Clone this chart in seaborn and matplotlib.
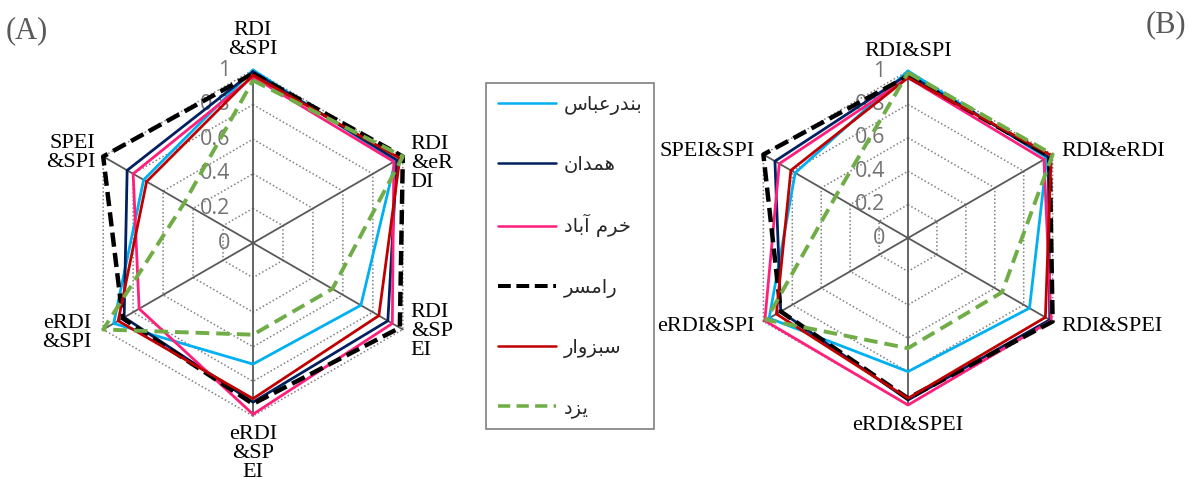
import numpy as np
import pandas as pd
import seaborn as sns
import matplotlib
matplotlib.use('Agg')
import matplotlib.pyplot as plt
from matplotlib.lines import Line2D

# ---------------------------------------------
# Data
# ---------------------------------------------
labels_a = ['RDI\n&SPI', 'RDI\n&eR\nDI', 'RDI\n&SP\nEI', 'eRDI\n&SP\nEI', 'eRDI\n&SPI', 'SPEI\n&SPI']
labels_b = ['RDI&SPI', 'RDI&eRDI', 'RDI&SPEI', 'eRDI&SPEI', 'eRDI&SPI', 'SPEI&SPI']
stations = ['بندرعباس', 'همدان', 'خرم آباد', 'رامسر', 'سبزوار', 'یزد']
ticks = [0, 0.2, 0.4, 0.6, 0.8, 1]

# panel (A)
bandarabbas_a = [1.00, 0.95, 0.72, 0.70, 0.93, 0.73]
hamedan_a     = [0.99, 0.96, 0.90, 0.92, 0.86, 0.84]
khorramabad_a = [0.96, 0.94, 0.93, 0.99, 0.76, 0.80]
ramsar_a      = [0.98, 1.00, 0.98, 0.93, 0.87, 1.00]
sabzevar_a    = [0.97, 0.98, 0.84, 0.90, 0.90, 0.71]
yazd_a        = [0.94, 1.00, 0.53, 0.53, 1.00, 0.46]

# panel (B)
bandarabbas_b = [1.00, 0.96, 0.84, 0.80, 0.96, 0.78]
hamedan_b     = [0.98, 0.97, 0.98, 0.97, 0.88, 0.92]
khorramabad_b = [0.96, 0.94, 0.99, 1.00, 0.99, 0.89]
ramsar_b      = [0.97, 0.98, 1.00, 0.96, 0.88, 1.00]
sabzevar_b    = [0.96, 0.99, 0.95, 0.96, 0.91, 0.81]
yazd_b        = [0.99, 1.00, 0.65, 0.66, 0.98, 0.50]

colors = ['#00B0F0', '#002060', '#FF1F7A', '#000000', '#C00000', '#70AD47']
widths = [2.0, 2.0, 2.0, 3.2, 2.0, 2.8]
styles = ['-', '-', '-', (0, (3.2, 1.4)), '-', (0, (3.5, 1.8))]

# ---------------------------------------------
# Minimal Persian shaping (matplotlib has no RTL / joining support)
# ---------------------------------------------
FORMS = {  # isolated, final, initial, medial
    'ا': ('\uFE8D', '\uFE8E', None, None),
    'آ': ('\uFE81', '\uFE82', None, None),
    'د': ('\uFEA9', '\uFEAA', None, None),
    'ر': ('\uFEAD', '\uFEAE', None, None),
    'ز': ('\uFEAF', '\uFEB0', None, None),
    'و': ('\uFEED', '\uFEEE', None, None),
    'ب': ('\uFE8F', '\uFE90', '\uFE91', '\uFE92'),
    'ن': ('\uFEE5', '\uFEE6', '\uFEE7', '\uFEE8'),
    'ع': ('\uFEC9', '\uFECA', '\uFECB', '\uFECC'),
    'س': ('\uFEB1', '\uFEB2', '\uFEB3', '\uFEB4'),
    'ه': ('\uFEE9', '\uFEEA', '\uFEEB', '\uFEEC'),
    'م': ('\uFEE1', '\uFEE2', '\uFEE3', '\uFEE4'),
    'خ': ('\uFEA5', '\uFEA6', '\uFEA7', '\uFEA8'),
    'ی': ('\uFBFC', '\uFBFD', '\uFBFE', '\uFBFF'),
}


def shape(word):
    out = []
    for i, ch in enumerate(word):
        if ch not in FORMS:
            out.append(ch)
            continue
        prev = word[i - 1] if i > 0 else None
        nxt = word[i + 1] if i + 1 < len(word) else None
        join_prev = prev in FORMS and FORMS[prev][2] is not None
        join_next = nxt in FORMS and FORMS[ch][2] is not None
        iso, fin, ini, med = FORMS[ch]
        if join_prev and join_next:
            out.append(med)
        elif join_prev:
            out.append(fin)
        elif join_next:
            out.append(ini)
        else:
            out.append(iso)
    return ''.join(reversed(out))


# ---------------------------------------------
# Style
# ---------------------------------------------
sns.set_theme(style='white')
plt.rcParams['font.family'] = ['Liberation Serif', 'DejaVu Sans']

W, H = 1188, 494
fig = plt.figure(figsize=(W / 100, H / 100), dpi=100)

angles = np.deg2rad(np.arange(6) * 60.0)
LIM = 1.35


def radar(ax, labels, series, tick_x_off):
    ax.set_xlim(-LIM, LIM)
    ax.set_ylim(-LIM, LIM)
    ax.axis('off')

    # hexagonal dotted grid rings
    for t in ticks[1:]:
        ring = np.append(angles, angles[0])
        ax.plot(t * np.sin(ring), t * np.cos(ring), color='#808080',
                lw=1.1, ls=(0, (1, 1.5)), zorder=1)
    # spokes
    for a in angles:
        ax.plot([0, np.sin(a)], [0, np.cos(a)], color='#595959', lw=1.3, zorder=2)

    # radial tick labels on the top spoke
    for t in ticks:
        ax.text(-tick_x_off, t, f'{t:g}', ha='right', va='center', fontsize=15.5,
                color='#737373', family='Open Sans', zorder=3)

    # series
    for vals, name, c, lw, ls in zip(series, stations, colors, widths, styles):
        r = np.append(vals, vals[0])
        th = np.append(angles, angles[0])
        df = pd.DataFrame({'x': r * np.sin(th), 'y': r * np.cos(th)})
        sns.lineplot(data=df, x='x', y='y', sort=False, estimator=None, ax=ax,
                     color=c, lw=lw, linestyle=ls, zorder=5)

    return ax


lab_kw = dict(fontsize=16, color='#000000', linespacing=1.0)

# ---------------------------------------------
# Panel (A)
# ---------------------------------------------
RA, cxA, cyA = 173.0, 253.0, 243.0
wA = 2 * LIM * RA
axA = fig.add_axes([(cxA - wA / 2) / W, (H - cyA - wA / 2) / H, wA / W, wA / H])
radar(axA, labels_a, [bandarabbas_a, hamedan_a, khorramabad_a, ramsar_a, sabzevar_a, yazd_a],
      23 / RA)
off = 8 / RA
axA.text(0, 1 + 11 / RA, labels_a[0], ha='center', va='bottom', **lab_kw)
axA.text(np.sin(angles[1]) + off, np.cos(angles[1]) - 0.04, labels_a[1], ha='left', va='center', **lab_kw)
axA.text(np.sin(angles[2]) + off, np.cos(angles[2]) - 0.01, labels_a[2], ha='left', va='center', **lab_kw)
axA.text(0, -1 - 9 / RA, labels_a[3], ha='center', va='top', **lab_kw)
axA.text(np.sin(angles[4]) - 12 / RA, np.cos(angles[4]) - 0.02, labels_a[4], ha='right', va='center', **lab_kw)
axA.text(np.sin(angles[5]) - off, np.cos(angles[5]) + 0.02, labels_a[5], ha='right', va='center', **lab_kw)

# ---------------------------------------------
# Panel (B)
# ---------------------------------------------
RB, cxB, cyB = 167.0, 908.0, 238.0
wB = 2 * LIM * RB
axB = fig.add_axes([(cxB - wB / 2) / W, (H - cyB - wB / 2) / H, wB / W, wB / H])
radar(axB, labels_b, [bandarabbas_b, hamedan_b, khorramabad_b, ramsar_b, sabzevar_b, yazd_b],
      23 / RB)
off = 9 / RB
axB.text(0, 1 + 10 / RB, labels_b[0], ha='center', va='bottom', **lab_kw)
axB.text(np.sin(angles[1]) + off, np.cos(angles[1]) + 0.02, labels_b[1], ha='left', va='center', **lab_kw)
axB.text(np.sin(angles[2]) + off, np.cos(angles[2]) - 0.03, labels_b[2], ha='left', va='center', **lab_kw)
axB.text(0, -1 - 11 / RB, labels_b[3], ha='center', va='top', **lab_kw)
axB.text(np.sin(angles[4]) - off, np.cos(angles[4]) - 0.03, labels_b[4], ha='right', va='center', **lab_kw)
axB.text(np.sin(angles[5]) - off, np.cos(angles[5]) + 0.02, labels_b[5], ha='right', va='center', **lab_kw)

# panel letters
fig.text(6 / W, 1 - 31 / H, '(A)', fontsize=22, color='#595959', va='center', ha='left')
fig.text(1186 / W, 1 - 25 / H, '(B)', fontsize=22, color='#595959', va='center', ha='right')

# ---------------------------------------------
# Legend
# ---------------------------------------------
handles = [Line2D([0], [0], color=c, lw=lw * 0.9, linestyle=ls)
           for c, lw, ls in zip(colors, widths, styles)]
leg = fig.legend(handles, [shape(s) for s in stations], loc='upper left',
                 bbox_to_anchor=(486 / W, 1 - 83 / H), bbox_transform=fig.transFigure,
                 frameon=True, fancybox=False, edgecolor='#7F7F7F', framealpha=1,
                 borderaxespad=0, borderpad=0.6, labelspacing=2.07,
                 handlelength=3.0, handletextpad=0.4,
                 prop={'family': 'DejaVu Sans', 'size': 14})
leg.get_frame().set_linewidth(1.2)
for t in leg.get_texts():
    t.set_color('#262626')

fig.savefig('out.png', dpi=100)
